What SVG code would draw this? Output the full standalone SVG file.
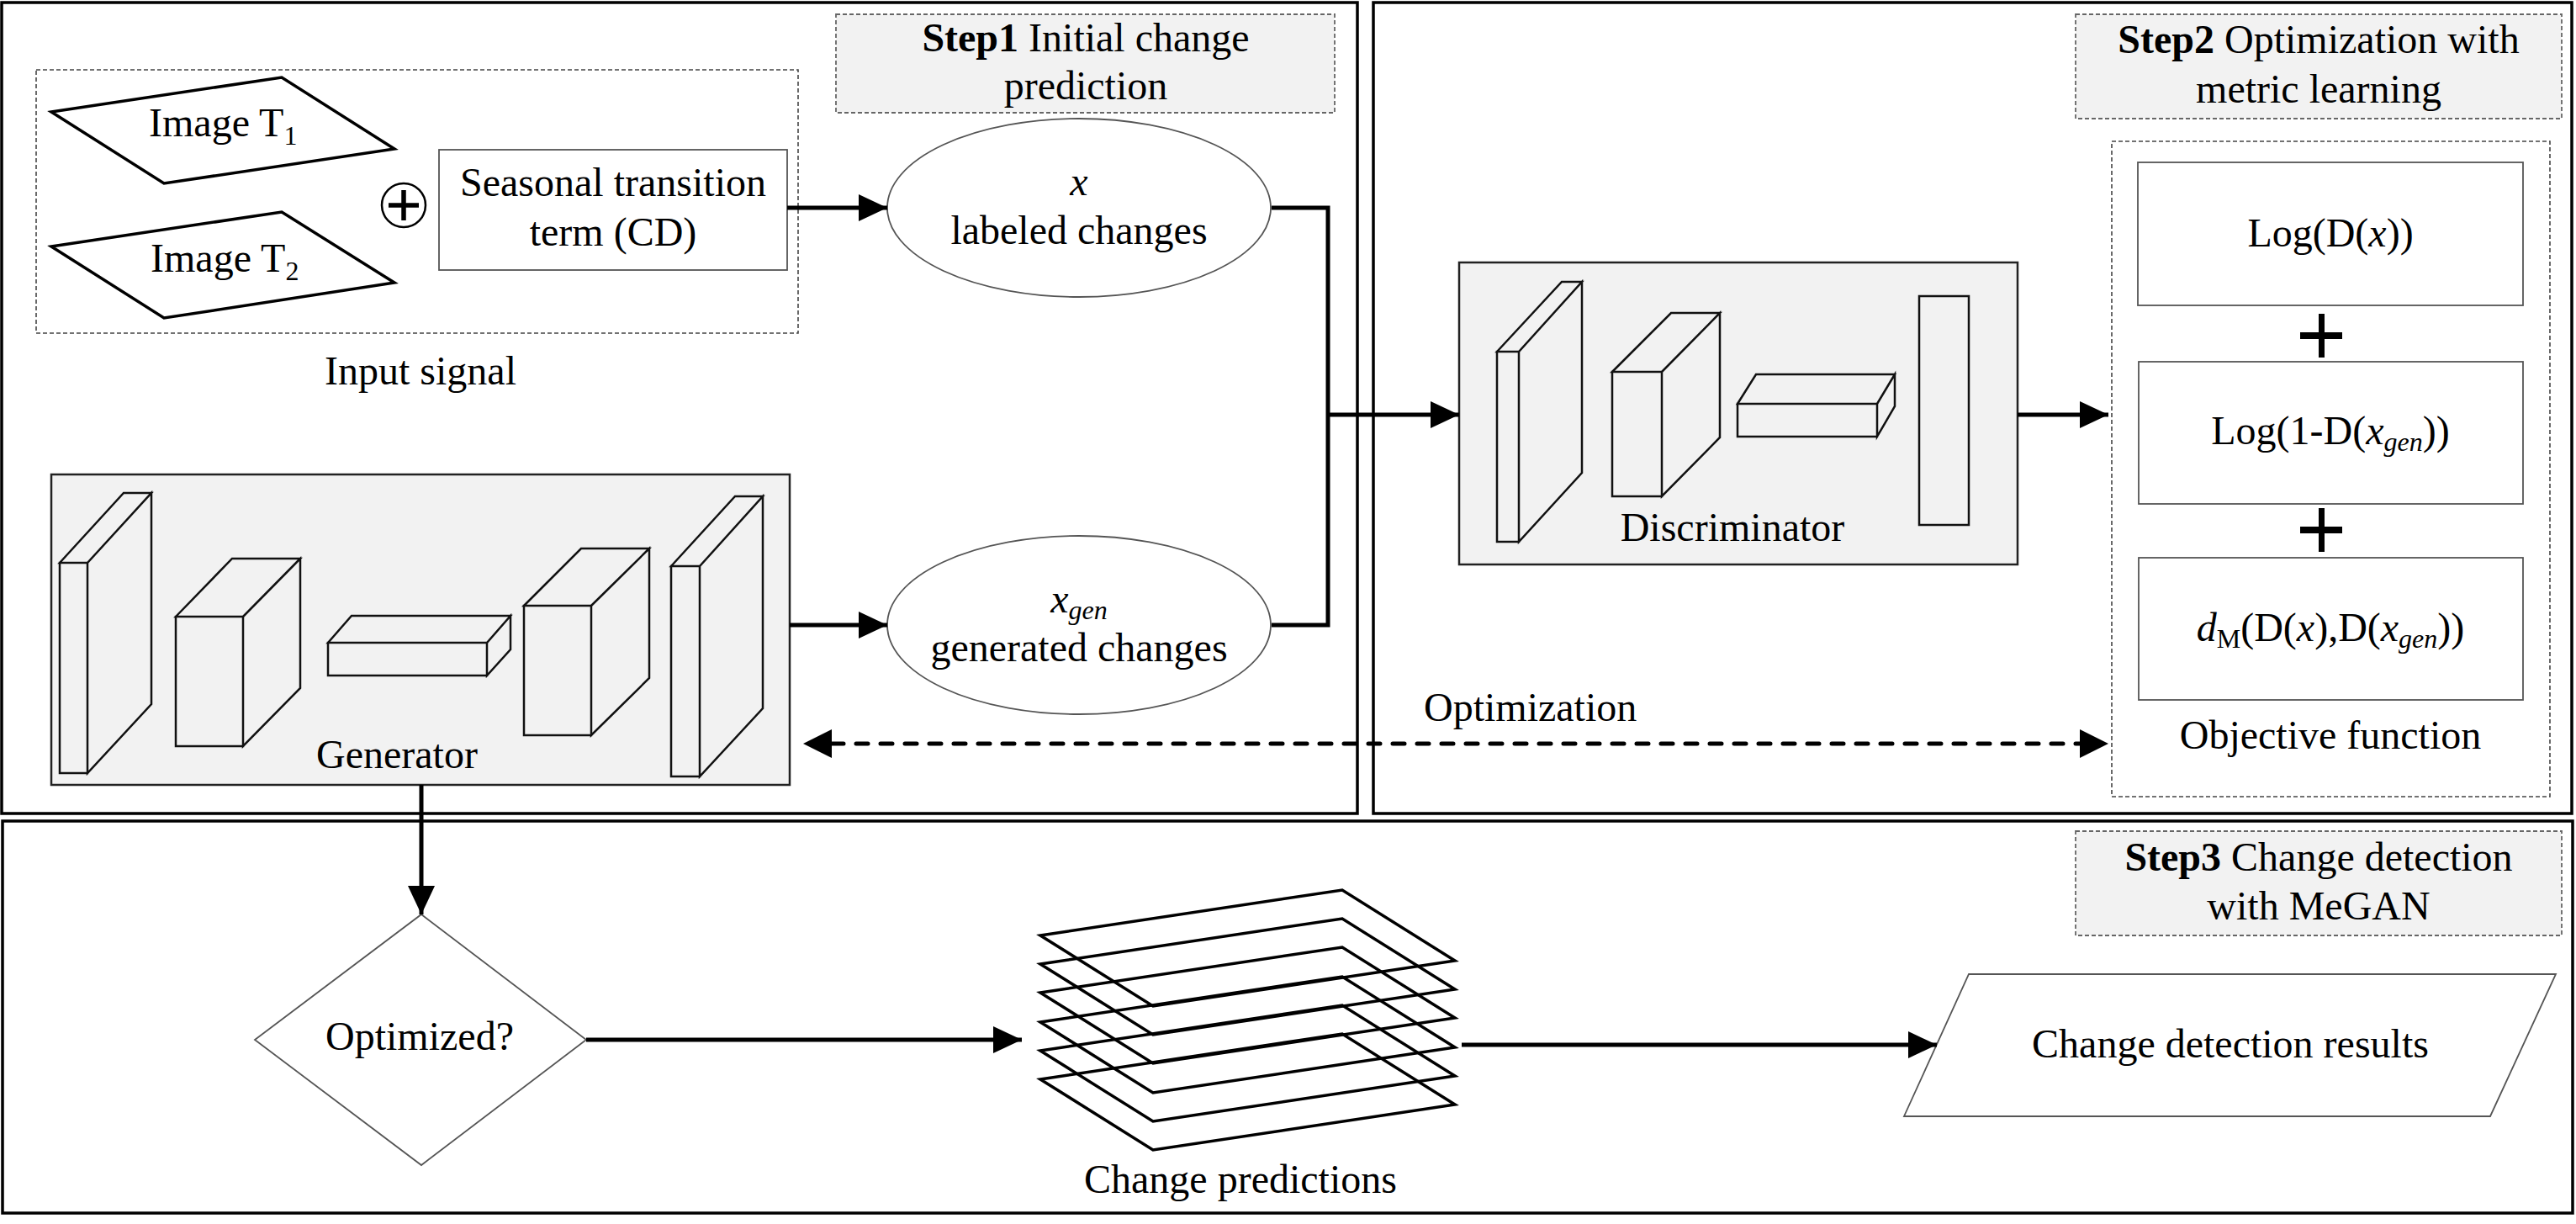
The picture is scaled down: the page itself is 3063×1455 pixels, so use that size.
<svg xmlns="http://www.w3.org/2000/svg" width="3063" height="1455" viewBox="0 0 3063 1455">
<style>
text{font-family:"Liberation Serif","Times New Roman",serif;font-size:48px;fill:#000}
.c{text-anchor:middle}
.b{font-weight:bold}
.i{font-style:italic}
.frame{fill:none;stroke:#000;stroke-width:3.5}
.lab{fill:#f2f2f2;stroke:#666;stroke-width:1.8;stroke-dasharray:5 3}
.dbox{fill:none;stroke:#444;stroke-width:1.6;stroke-dasharray:5 3}
.thin{fill:#fff;stroke:#555;stroke-width:1.8}
.net{fill:#f2f2f2;stroke:#222;stroke-width:2.5}
.blk{fill:#f2f2f2;stroke:#111;stroke-width:2.5;stroke-linejoin:miter}
.par{fill:none;stroke:#000;stroke-width:3.5}
.con{fill:none;stroke:#000;stroke-width:5}
.arr{marker-end:url(#ah)}
</style>
<defs>
<marker id="ah" viewBox="0 0 34 32" refX="34" refY="16" markerWidth="34" markerHeight="32" markerUnits="userSpaceOnUse" orient="auto-start-reverse"><path d="M0,0 L34,16 L0,32 z" fill="#000"/></marker>
</defs>
<rect width="3063" height="1455" fill="#fff"/>

<g id="step1-frame"><rect class="frame" x="2" y="3" width="1612" height="964"/></g>
<g id="step2-frame"><rect class="frame" x="1633" y="3" width="1425" height="964"/></g>
<g id="step3-frame"><rect class="frame" x="3" y="976" width="3056" height="466"/></g>

<g id="step1-label"><rect class="lab" x="994" y="17" width="593" height="117"/>
<text class="c" x="1291" y="61"><tspan class="b">Step1</tspan> Initial change</text>
<text class="c" x="1291" y="118">prediction</text></g>

<g id="step2-label"><rect class="lab" x="2468" y="17" width="578" height="124"/>
<text class="c" x="2757" y="63"><tspan class="b">Step2</tspan> Optimization with</text>
<text class="c" x="2757" y="122">metric learning</text></g>

<g id="step3-label"><rect class="lab" x="2468" y="988" width="578" height="124"/>
<text class="c" x="2757" y="1035"><tspan class="b">Step3</tspan> Change detection</text>
<text class="c" x="2757" y="1093">with MeGAN</text></g>

<g id="input-signal"><rect class="dbox" x="43" y="83" width="906" height="313"/>
<text class="c" x="500" y="457">Input signal</text></g>

<g id="image-t1"><polygon class="par" points="61,133 335,92 469,177 195,218"/>
<text x="177" y="162">Image T<tspan font-size="32" dy="10">1</tspan></text></g>

<g id="image-t2"><polygon class="par" points="61,293 335,252 469,336 195,378"/>
<text x="179" y="323">Image T<tspan font-size="32" dy="10">2</tspan></text></g>

<g id="oplus"><circle cx="480" cy="244" r="26" fill="none" stroke="#000" stroke-width="2.5"/>
<path d="M462,244 H498 M480,226 V262" stroke="#000" stroke-width="5.5"/></g>

<g id="seasonal-term"><rect class="thin" x="522" y="178" width="414" height="143"/>
<text class="c" x="729" y="233">Seasonal transition</text>
<text class="c" x="729" y="292">term (CD)</text></g>

<g id="labeled-changes"><ellipse class="thin" cx="1283" cy="247" rx="228" ry="106"/>
<text class="c i" x="1283" y="232">x</text>
<text class="c" x="1283" y="290">labeled changes</text></g>

<g id="generated-changes"><ellipse class="thin" cx="1283" cy="743" rx="228" ry="106"/>
<text class="c" x="1283" y="728"><tspan class="i">x</tspan><tspan class="i" font-size="32" dy="8">gen</tspan></text>
<text class="c" x="1283" y="786">generated changes</text></g>

<g id="generator"><rect class="net" x="61" y="564" width="878" height="369"/>
<path class="blk" d="M71,669 H104 V919 H71 Z M71,669 L147,586 H180 L104,669 Z M104,669 L180,586 V837 L104,919 Z"/>
<path class="blk" d="M209,733 H289 V887 H209 Z M209,733 L276,664 H357 L289,733 Z M289,733 L357,664 V818 L289,887 Z"/>
<path class="blk" d="M390,764 H579 V803 H390 Z M390,764 L418,732 H607 L579,764 Z M579,764 L607,732 V772 L579,803 Z"/>
<path class="blk" d="M623,720 H703 V874 H623 Z M623,720 L691,652 H772 L703,720 Z M703,720 L772,652 V806 L703,874 Z"/>
<path class="blk" d="M798,673 H832 V923 H798 Z M798,673 L874,590 H907 L832,673 Z M832,673 L907,590 V842 L832,923 Z"/>
<text class="c" x="472" y="913">Generator</text></g>

<g id="discriminator"><rect class="net" x="1735" y="312" width="664" height="359"/>
<path class="blk" d="M1780,418 H1806 V644 H1780 Z M1780,418 L1857,335 H1881 L1806,418 Z M1806,418 L1881,335 V562 L1806,644 Z"/>
<path class="blk" d="M1917,442 H1976 V590 H1917 Z M1917,442 L1987,372 H2045 L1976,442 Z M1976,442 L2045,372 V520 L1976,590 Z"/>
<path class="blk" d="M2066,480 H2232 V519 H2066 Z M2066,480 L2088,445 H2253 L2232,480 Z M2232,480 L2253,445 V483 L2232,519 Z"/>
<rect class="blk" x="2282" y="352" width="59" height="272"/>
<text class="c" x="2060" y="643">Discriminator</text></g>

<g id="objective-function"><rect class="dbox" x="2511" y="168" width="521" height="779"/>
<text class="c" x="2771" y="890">Objective function</text></g>

<g id="log-dx"><rect class="thin" x="2542" y="193" width="458" height="170"/>
<text class="c" x="2771" y="293">Log(D(<tspan class="i">x</tspan>))</text></g>

<g id="plus1"><rect x="2757" y="373" width="7" height="52"/><rect x="2735" y="395" width="50" height="8"/></g>

<g id="log-1-dxgen"><rect class="thin" x="2543" y="430" width="457" height="169"/>
<text class="c" x="2771" y="528">Log(1-D(<tspan class="i">x</tspan><tspan class="i" font-size="32" dy="8">gen</tspan><tspan dy="-8">))</tspan></text></g>

<g id="plus2"><rect x="2757" y="604" width="7" height="52"/><rect x="2735" y="626" width="50" height="8"/></g>

<g id="metric-distance"><rect class="thin" x="2543" y="663" width="457" height="169"/>
<text class="c" x="2771" y="762"><tspan class="i">d</tspan><tspan font-size="32" dy="8">M</tspan><tspan dy="-8">(D(</tspan><tspan class="i">x</tspan>),D(<tspan class="i">x</tspan><tspan class="i" font-size="32" dy="8">gen</tspan><tspan dy="-8">))</tspan></text></g>

<g id="optimized-decision"><polygon class="thin" points="501,1087 697,1236 501,1385 303,1236"/>
<text class="c" x="499" y="1248">Optimized?</text></g>

<g id="change-predictions">
<polygon class="par" points="1237,1112 1596,1058 1730,1142 1371,1196"/>
<polygon class="par" points="1237,1146 1596,1092 1730,1176 1371,1230"/>
<polygon class="par" points="1237,1180 1596,1126 1730,1210 1371,1264"/>
<polygon class="par" points="1237,1215 1596,1161 1730,1245 1371,1299"/>
<polygon class="par" points="1237,1249 1596,1195 1730,1279 1371,1333"/>
<polygon class="par" points="1237,1283 1596,1229 1730,1313 1371,1367"/>
<text class="c" x="1475" y="1418">Change predictions</text></g>

<g id="change-detection-results"><polygon class="thin" points="2341,1158 3039,1158 2961,1327 2264,1327"/>
<text class="c" x="2652" y="1257">Change detection results</text></g>

<g id="connectors">
<path class="con arr" d="M936,247 H1055"/>
<path class="con arr" d="M939,743 H1055"/>
<path class="con" d="M1512,247 H1579 V743 H1512"/>
<path class="con arr" d="M1579,493 H1735"/>
<path class="con arr" d="M2399,493 H2507"/>
<path class="con" d="M989,884 H2473" stroke-dasharray="14 15" stroke-linecap="round"/>
<path d="M955,884 L989,867 V901 Z M2507,884 L2473,867 V901 Z" fill="#000"/>
<text x="1693" y="857">Optimization</text>
<path class="con arr" d="M501,933 V1087"/>
<path class="con arr" d="M697,1236 H1215"/>
<path class="con arr" d="M1738,1242 H2303"/>
</g>
</svg>
